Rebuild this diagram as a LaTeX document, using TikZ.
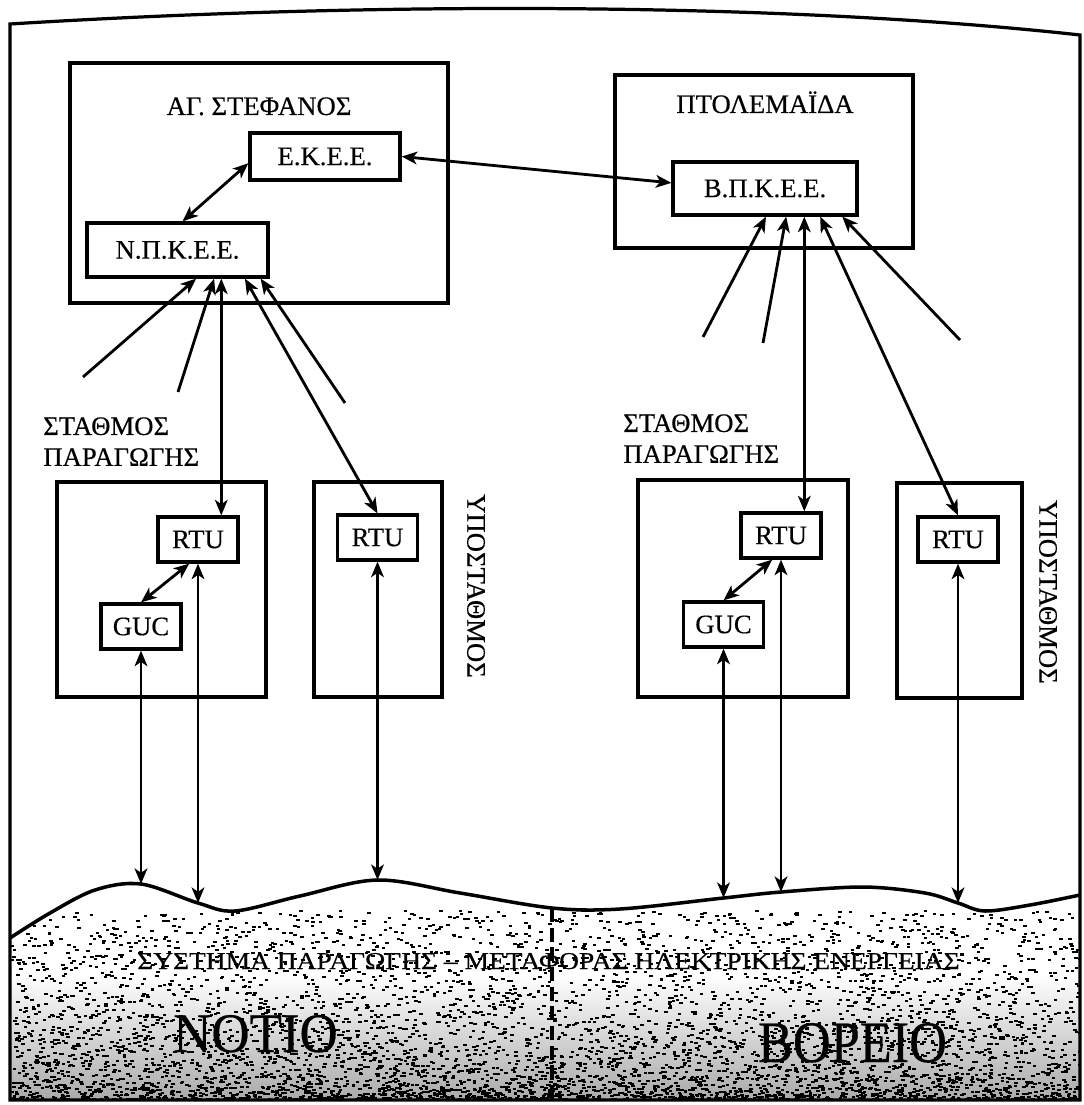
\documentclass[tikz,border=0pt]{standalone}
\usepackage{fontspec}
\setmainfont{Liberation Serif}[FakeBold=0.4]
\usepackage{graphicx}
\usetikzlibrary{arrows.meta}

\newcommand{\lab}{\fontsize{19}{22}\selectfont}

\tikzset{
  box/.style={draw, line width=2.3pt, font=\lab, inner sep=0pt},
  unit/.style={box, minimum width=20mm, minimum height=11.25mm},
  link/.style={line width=2pt, {Stealth[length=11pt,width=9pt,inset=3pt]}-{Stealth[length=11pt,width=9pt,inset=3pt]}},
  feed/.style={line width=2pt, -{Stealth[length=11pt,width=9pt,inset=3pt]}},
}

\begin{document}
\begin{tikzpicture}[x=0.25mm, y=-0.25mm]
\useasboundingbox (0,0) rectangle (1083,1105);

\begin{scope}
  \clip plot[smooth, tension=0.55] coordinates {(10,938) (50,913) (95,890) (141,884) (198,903) (235,911) (300,896) (377.5,880) (460,893) (552,908) (620,909) (723.5,898) (781,892) (863,887) (925,893) (958,903) (985,911) (1030,905) (1080,895)} -- (1080,1100) -- (10,1100) -- cycle;
  \shade[top color=white, bottom color=black!35] (0,975) rectangle (1083,1105);
  \pgfmathsetseed{11}
  \foreach \k in {1,...,6000}{
    \pgfmathsetmacro{\gx}{10+1070*rnd}
    \pgfmathsetmacro{\gy}{1100-190*rnd^2.2}
    \fill (\gx,\gy) rectangle ++(3.5,2);
  }
\end{scope}

\draw[line width=2.3pt] (10,1100) -- (10,24) .. controls (400,0) and (800,4) .. (1080,35) -- (1080,1100) -- cycle;
\draw[line width=2.5pt] plot[smooth, tension=0.55] coordinates {(10,938) (50,913) (95,890) (141,884) (198,903) (235,911) (300,896) (377.5,880) (460,893) (552,908) (620,909) (723.5,898) (781,892) (863,887) (925,893) (958,903) (985,911) (1030,905) (1080,895)};

\node[box, minimum width=94.5mm, minimum height=60mm] (agst) at (259,183) {};
\node[font=\lab, anchor=base] (agtitle) at (259,115) {ΑΓ. ΣΤΕΦΑΝΟΣ};
\node[box, minimum width=37.5mm, minimum height=11.75mm] (ekee) at (325,156.5) {Ε.Κ.Ε.Ε.};
\node[box, minimum width=45.25mm, minimum height=13.5mm] (npkee) at (177.5,250) {Ν.Π.Κ.Ε.Ε.};

\node[box, minimum width=74.5mm, minimum height=43.25mm] (ptol) at (764,161.5) {};
\node[font=\lab, anchor=base] (ptoltitle) at (765,113) {ΠΤΟΛΕΜΑΪΔΑ};
\node[box, minimum width=46mm, minimum height=13.25mm] (bpkee) at (765,188.5) {Β.Π.Κ.Ε.Ε.};

\node[box, minimum width=52.25mm, minimum height=53.75mm] (staA) at (161.5,589.5) {};
\node[box, minimum width=32mm, minimum height=53.75mm] (subA) at (378,589.5) {};
\node[unit] (rtuA) at (198,539.5) {RTU};
\node[unit] (gucA) at (141,626.5) {GUC};
\node[unit] (rtuAs) at (377.5,537.5) {RTU};
\node[font=\lab, align=left, anchor=north west, inner sep=0pt] (staAlab) at (43,417) {ΣΤΑΘΜΟΣ\\ΠΑΡΑΓΩΓΗΣ};
\node[font=\lab, rotate=-90, inner sep=0pt] (subAlab) at (476,586) {ΥΠΟΣΤΑΘΜΟΣ};

\node[box, minimum width=52.5mm, minimum height=54.25mm] (staB) at (743,588.5) {};
\node[box, minimum width=31.25mm, minimum height=53.75mm] (subB) at (959.5,590.5) {};
\node[unit] (rtuB) at (781,535.5) {RTU};
\node[unit] (gucB) at (723.5,624.5) {GUC};
\node[unit] (rtuBs) at (958,539.5) {RTU};
\node[font=\lab, align=left, anchor=north west, inner sep=0pt] (staBlab) at (623,414) {ΣΤΑΘΜΟΣ\\ΠΑΡΑΓΩΓΗΣ};
\node[font=\lab, rotate=-90, inner sep=0pt] (subBlab) at (1048,592) {ΥΠΟΣΤΑΘΜΟΣ};

\node[anchor=base] (sys) at (548.5,969) {\resizebox{585pt}{11.4pt}{ΣΥΣΤΗΜΑ ΠΑΡΑΓΩΓΗΣ -- ΜΕΤΑΦΟΡΑΣ ΗΛΕΚΤΡΙΚΗΣ ΕΝΕΡΓΕΙΑΣ}};
\node[anchor=base] (notio) at (255.5,1052) {\resizebox{117pt}{26.3pt}{ΝΟΤΙΟ}};
\node[anchor=base] (voreio) at (852.5,1062) {\resizebox{134.4pt}{27.7pt}{ΒΟΡΕΙΟ}};

\coordinate (ta1) at (83,377);
\coordinate (ta2) at (178,392);
\coordinate (ta3) at (345,403);
\coordinate (tb1) at (703,337);
\coordinate (tb2) at (763,343);
\coordinate (tb3) at (960,340);
\coordinate (wgA) at (141,884);
\coordinate (wrA) at (198,903);
\coordinate (wsA) at (377.5,880);
\coordinate (wgB) at (723.5,898);
\coordinate (wrB) at (781,892);
\coordinate (wsB) at (958,903);
\coordinate (wmid) at (552,908);
\coordinate (bmid) at (552,1100);

\draw[line width=3pt, dash pattern=on 10pt off 4pt] (wmid) -- (bmid);

\draw[link] (npkee.80) -- (ekee.185);
\draw[link] (ekee.east) -- ([yshift=4pt]bpkee.west);

\draw[feed] (ta1) -- (npkee.303);
\draw[feed] (ta2) -- (npkee.322);
\draw[link] (rtuA.46) -- (rtuA.46 |- npkee.south);
\draw[link] (rtuAs.north) -- (npkee.337);
\draw[feed] (ta3) -- (npkee.341);

\draw[feed] (tb1) -- (bpkee.272);
\draw[feed] (tb2) -- (bpkee.307);
\draw[link] (rtuB.46) -- (rtuB.46 |- bpkee.south);
\draw[link] (rtuBs.north) -- (bpkee.333);
\draw[feed] (tb3) -- (bpkee.340);

\draw[link] (gucA.north) -- (rtuA.250);
\draw[link] (gucB.north) -- (rtuB.250);

\draw[link] (gucA.south) -- (wgA);
\draw[link] (rtuA.south) -- (wrA);
\draw[link] (rtuAs.south) -- (wsA);
\draw[link] (gucB.south) -- (wgB);
\draw[link] (rtuB.south) -- (wrB);
\draw[link] (rtuBs.south) -- (wsB);
\end{tikzpicture}
\end{document}
